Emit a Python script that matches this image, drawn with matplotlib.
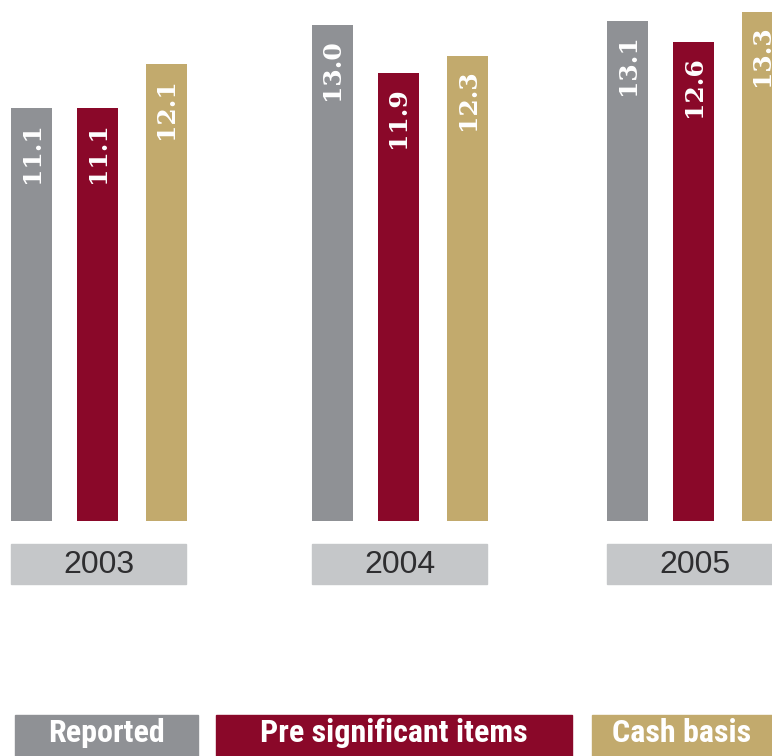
import matplotlib
matplotlib.use("Agg")
import matplotlib.pyplot as plt
from matplotlib import font_manager
from matplotlib.patches import Rectangle

years = ["2003", "2004", "2005"]
series = ["Reported", "Pre significant items", "Cash basis"]
reported = [11.1, 13.0, 13.1]
pre_significant = [11.1, 11.9, 12.6]
cash_basis = [12.1, 12.3, 13.3]

colors = ["#8f9195", "#8a0829", "#c2aa6d"]
box_grey = "#c5c7c9"

# layout in pixels (figure is 772 x 756)
W, H = 772, 756
baseline = 521
px_per_unit = 43.9
y_floor = 1.7          # value axis does not start at zero
group_left = [11, 312, 607]
bar_offsets = [0, 66, 135]
bar_w = 41
legend_boxes = [(15, 198), (216, 572), (592, 790)]

names = {f.name for f in font_manager.fontManager.ttflist}
narrow = "DejaVu Sans"
for n in ["Liberation Sans Narrow", "Roboto Condensed", "Open Sans Condensed"]:
    if n in names:
        narrow = n
        break

fig = plt.figure(figsize=(W / 100, H / 100), dpi=100)

# bar axes: y_floor sits on the baseline
ax = fig.add_axes([0, (H - baseline) / H, 1, baseline / H])
ax.set_xlim(0, W)
ax.set_ylim(y_floor, y_floor + baseline / px_per_unit)
ax.axis("off")

values = [reported, pre_significant, cash_basis]
for s, vals in enumerate(values):
    xs = [g + bar_offsets[s] for g in group_left]
    bars = ax.bar(xs, vals, width=bar_w, align="edge", color=colors[s])
    for b, v in zip(bars, vals):
        ax.annotate(f"{v:.1f}", (b.get_x() + bar_w / 2, v), xytext=(0, -10),
                    textcoords="offset points", rotation=90, ha="center",
                    va="top", color="white", fontsize=18, fontweight="bold",
                    family="DejaVu Serif")

# overlay in pixel coordinates for year boxes and legend
ov = fig.add_axes([0, 0, 1, 1])
ov.set_xlim(0, W)
ov.set_ylim(H, 0)
ov.axis("off")

span = bar_offsets[-1] + bar_w
for g, yr in zip(group_left, years):
    ov.add_patch(Rectangle((g, 544), span - 1, 40, color=box_grey))
    ov.text(g + span / 2, 565, yr, ha="center", va="center", fontsize=23,
            color="#2e2e30", family="Liberation Sans")

for (x0, x1), name, c in zip(legend_boxes, series, colors):
    ov.add_patch(Rectangle((x0, 715), x1 - x0, 45, color=c))
    cx = (x0 + x1) / 2 if x1 < W else x0 + 90
    ov.text(cx, 733, name, ha="center", va="center", fontsize=23,
            fontweight="bold", fontstretch="condensed", color="white",
            family=narrow)

fig.savefig("out.png", dpi=100)
